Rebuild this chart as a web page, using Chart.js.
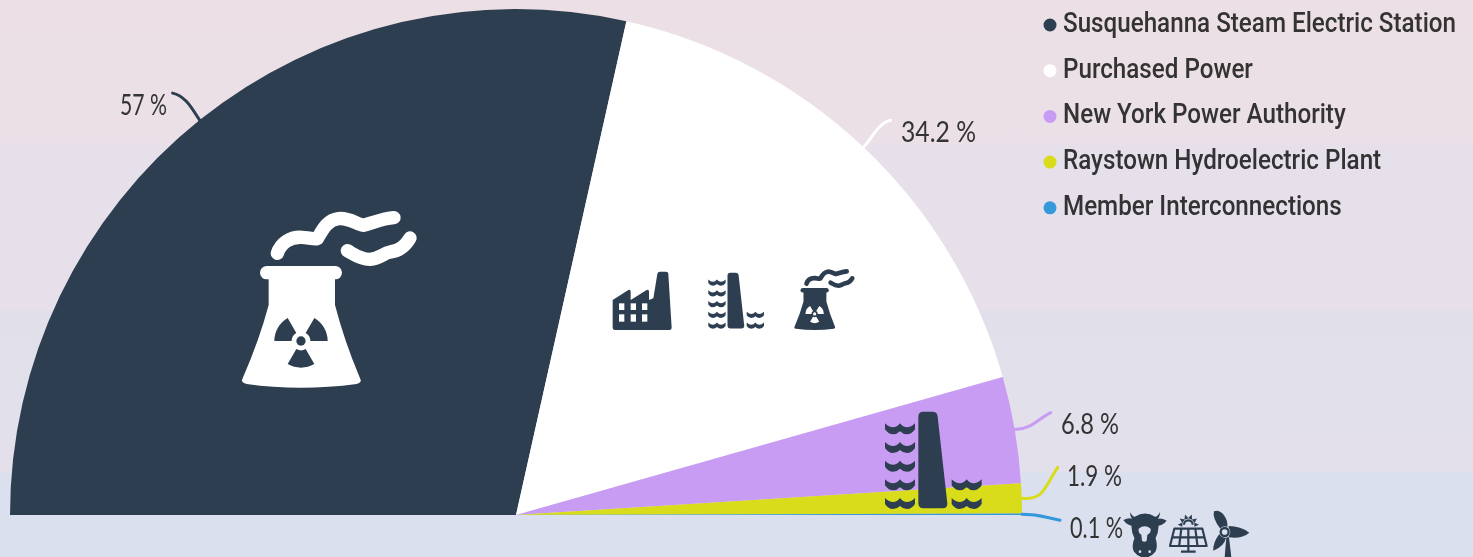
<!DOCTYPE html>
<html>
<head>
<meta charset="utf-8">
<script src="https://cdn.jsdelivr.net/npm/chart.js@4"></script>
<style>
  html, body { margin: 0; padding: 0; width: 1473px; height: 557px; overflow: hidden; }
  body { background: linear-gradient(180deg, #ece0e6 0, #ebe0e7 144px, #e6e0eb 145px, #e7e0ea 310px, #e1e0ea 311px, #e3e0ec 472px, #dbe0ee 473px, #dbe0ee 557px); }
  canvas { display: block; }
</style>
</head>
<body>
<canvas id="myChart" width="1473" height="557"></canvas>
<script>
var categories = ['Susquehanna Steam Electric Station', 'Purchased Power', 'New York Power Authority', 'Raystown Hydroelectric Plant', 'Member Interconnections'];
var shares = [57, 34.2, 6.8, 1.9, 0.1];
var colors = ['#2d3e50', '#ffffff', '#c99cf4', '#d8dc1a', '#3498db'];

var DARK = '#2d3e50';
var WHITE = '#ffffff';

// connector curve, offsets from the outer middle of each slice, then label x / baseline / width
var callouts = [
    { c: [-8, -12, -14, -24, -27, -27], tx: 120, ty: 115, tw: 47 },
    { c: [8, -8, 14, -24, 27, -27], tx: 901, ty: 142, tw: 75 },
    { c: [18, -1, 22, -10, 36, -17], tx: 1061, ty: 434, tw: 58 },
    { c: [22, 2, 22, -10, 36, -31], tx: 1067, ty: 486, tw: 55 },
    { c: [18, 0, 22, 3, 38, 6], tx: 1070, ty: 538, tw: 53 }
];

function wave(ctx, x, y) {
    ctx.beginPath();
    ctx.moveTo(x, y);
    ctx.quadraticCurveTo(x + 12, y + 12, x + 24, y + 12);
    ctx.quadraticCurveTo(x + 36, y + 12, x + 45, y);
    ctx.quadraticCurveTo(x + 54, y + 12, x + 66, y + 12);
    ctx.quadraticCurveTo(x + 78, y + 12, x + 90, y);
    ctx.lineTo(x + 90, y + 18);
    ctx.quadraticCurveTo(x + 80, y + 33, x + 66, y + 33);
    ctx.quadraticCurveTo(x + 54, y + 33, x + 45, y + 24);
    ctx.quadraticCurveTo(x + 36, y + 33, x + 24, y + 33);
    ctx.quadraticCurveTo(x + 10, y + 33, x, y + 18);
    ctx.closePath();
    ctx.fill();
}

function drawDam(ctx, ox, oy, s) {
    ctx.save();
    ctx.translate(ox, oy);
    ctx.scale(s, s);
    ctx.fillStyle = DARK;
    ctx.beginPath();
    ctx.moveTo(175, 50);
    ctx.quadraticCurveTo(175, 35, 190, 35);
    ctx.lineTo(218, 35);
    ctx.quadraticCurveTo(232, 35, 233, 50);
    ctx.lineTo(262, 310);
    ctx.quadraticCurveTo(263, 325, 248, 325);
    ctx.lineTo(190, 325);
    ctx.quadraticCurveTo(175, 325, 175, 310);
    ctx.closePath();
    ctx.fill();
    [70, 126, 182, 238, 294].forEach(function (y) { wave(ctx, 75, y); });
    [238, 294].forEach(function (y) { wave(ctx, 275, y); });
    ctx.restore();
}

function drawTower(ctx, ox, oy, s, fg, bg) {
    ctx.save();
    ctx.translate(ox, oy);
    ctx.scale(s, s);
    ctx.fillStyle = fg;
    ctx.strokeStyle = fg;
    ctx.lineCap = 'round';
    ctx.lineJoin = 'round';
    ctx.lineWidth = 40;
    ctx.beginPath();
    ctx.moveTo(172, 190);
    ctx.bezierCurveTo(182, 160, 210, 140, 245, 142);
    ctx.bezierCurveTo(265, 143, 280, 148, 292, 146);
    ctx.bezierCurveTo(305, 125, 320, 90, 355, 86);
    ctx.bezierCurveTo(385, 82, 410, 102, 430, 106);
    ctx.bezierCurveTo(460, 98, 490, 85, 522, 83);
    ctx.stroke();
    ctx.beginPath();
    ctx.moveTo(382, 182);
    ctx.bezierCurveTo(400, 192, 420, 208, 450, 208);
    ctx.bezierCurveTo(480, 205, 490, 190, 510, 186);
    ctx.bezierCurveTo(540, 183, 558, 165, 570, 144);
    ctx.stroke();
    ctx.beginPath();
    ctx.roundRect(120, 228, 246, 40, 20);
    ctx.fill();
    ctx.beginPath();
    ctx.moveTo(146, 260);
    ctx.lineTo(146, 345);
    ctx.quadraticCurveTo(118, 450, 68, 565);
    ctx.quadraticCurveTo(60, 578, 80, 582);
    ctx.quadraticCurveTo(240, 605, 410, 582);
    ctx.quadraticCurveTo(428, 578, 420, 565);
    ctx.quadraticCurveTo(372, 450, 345, 345);
    ctx.lineTo(345, 260);
    ctx.closePath();
    ctx.fill();
    // radiation sign
    ctx.fillStyle = bg;
    [[180, 240], [300, 360], [60, 120]].forEach(function (a) {
        ctx.beginPath();
        ctx.arc(243, 453, 80, a[0] * Math.PI / 180, a[1] * Math.PI / 180);
        ctx.arc(243, 453, 28, a[1] * Math.PI / 180, a[0] * Math.PI / 180, true);
        ctx.closePath();
        ctx.fill();
    });
    ctx.beginPath();
    ctx.arc(243, 453, 14, 0, Math.PI * 2);
    ctx.fill();
    ctx.restore();
}

function drawFactory(ctx, ox, oy, s) {
    ctx.save();
    ctx.translate(ox, oy);
    ctx.scale(s, s);
    ctx.fillStyle = DARK;
    ctx.beginPath();
    ctx.moveTo(38, 120);
    ctx.lineTo(85, 90);
    ctx.quadraticCurveTo(92, 87, 92, 95);
    ctx.lineTo(92, 120);
    ctx.lineTo(140, 90);
    ctx.quadraticCurveTo(147, 87, 147, 95);
    ctx.lineTo(147, 120);
    ctx.lineTo(160, 115);
    ctx.lineTo(172, 42);
    ctx.quadraticCurveTo(173, 35, 180, 35);
    ctx.lineTo(197, 35);
    ctx.quadraticCurveTo(205, 35, 205, 42);
    ctx.lineTo(215, 203);
    ctx.quadraticCurveTo(215, 210, 208, 210);
    ctx.lineTo(45, 210);
    ctx.quadraticCurveTo(38, 210, 38, 203);
    ctx.closePath();
    ctx.fill();
    ctx.fillStyle = WHITE;
    [57, 92, 126].forEach(function (x) {
        ctx.fillRect(x, 130, 16, 20);
        ctx.fillRect(x, 163, 16, 22);
    });
    ctx.restore();
}

function drawCow(ctx, ox, oy, s) {
    ctx.save();
    ctx.translate(ox, oy);
    ctx.scale(s, s);
    ctx.fillStyle = DARK;
    ctx.strokeStyle = DARK;
    ctx.lineWidth = 5;
    ctx.lineJoin = 'round';
    ctx.beginPath(); // head
    ctx.moveTo(46, 28);
    ctx.quadraticCurveTo(75, 10, 104, 28);
    ctx.quadraticCurveTo(122, 55, 104, 90);
    ctx.quadraticCurveTo(112, 115, 104, 130);
    ctx.quadraticCurveTo(92, 146, 74, 146);
    ctx.quadraticCurveTo(56, 146, 44, 130);
    ctx.quadraticCurveTo(36, 115, 46, 90);
    ctx.quadraticCurveTo(28, 55, 46, 28);
    ctx.closePath();
    ctx.fill();
    ctx.stroke();
    ctx.beginPath(); // horns and ears
    ctx.moveTo(30, 12); ctx.quadraticCurveTo(36, 28, 56, 30); ctx.lineTo(44, 40); ctx.quadraticCurveTo(30, 30, 30, 12);
    ctx.moveTo(120, 12); ctx.quadraticCurveTo(114, 28, 94, 30); ctx.lineTo(106, 40); ctx.quadraticCurveTo(120, 30, 120, 12);
    ctx.moveTo(10, 36); ctx.quadraticCurveTo(30, 26, 46, 36); ctx.lineTo(44, 54); ctx.quadraticCurveTo(22, 54, 10, 36);
    ctx.moveTo(140, 38); ctx.quadraticCurveTo(120, 26, 104, 36); ctx.lineTo(106, 54); ctx.quadraticCurveTo(128, 54, 140, 38);
    ctx.fill();
    ctx.fillStyle = '#dbe0ee'; // face patch and nostrils
    ctx.beginPath();
    ctx.moveTo(56, 62);
    ctx.quadraticCurveTo(74, 48, 92, 62);
    ctx.quadraticCurveTo(94, 74, 82, 80);
    ctx.lineTo(80, 98);
    ctx.quadraticCurveTo(73, 104, 66, 98);
    ctx.lineTo(64, 80);
    ctx.quadraticCurveTo(54, 74, 56, 62);
    ctx.closePath();
    ctx.fill();
    ctx.beginPath(); ctx.arc(60, 131, 4, 0, Math.PI * 2); ctx.arc(89, 131, 4, 0, Math.PI * 2); ctx.fill();
    ctx.restore();
}

function drawSolar(ctx, ox, oy, s) {
    ctx.save();
    ctx.translate(ox, oy);
    ctx.scale(s, s);
    ctx.strokeStyle = DARK;
    ctx.fillStyle = DARK;
    ctx.lineWidth = 6.5;
    ctx.lineJoin = 'round';
    ctx.beginPath();
    ctx.moveTo(28, 62); ctx.lineTo(112, 62); ctx.lineTo(125, 114); ctx.lineTo(15, 114); ctx.closePath();
    // cells
    ctx.moveTo(22, 88); ctx.lineTo(118, 88);
    [0.25, 0.5, 0.75].forEach(function (f) {
        ctx.moveTo(28 + 84 * f, 62);
        ctx.lineTo(15 + 110 * f, 114);
    });
    ctx.moveTo(70, 114); ctx.lineTo(70, 128);
    ctx.moveTo(48, 131); ctx.lineTo(92, 131);
    ctx.stroke();
    // half sun
    ctx.beginPath();
    ctx.arc(70, 50, 13, Math.PI, 0);
    ctx.stroke();
    for (var a = 180; a <= 360; a += 36) {
        var r = a * Math.PI / 180, p = Math.PI / 9;
        ctx.beginPath();
        ctx.moveTo(70 + Math.cos(r - p) * 19, 50 + Math.sin(r - p) * 19);
        ctx.lineTo(70 + Math.cos(r) * 32, 50 + Math.sin(r) * 32);
        ctx.lineTo(70 + Math.cos(r + p) * 19, 50 + Math.sin(r + p) * 19);
        ctx.closePath();
        ctx.fill();
    }
    ctx.restore();
}

function drawTurbine(ctx, ox, oy, s) {
    ctx.save();
    ctx.translate(ox, oy);
    ctx.scale(s, s);
    ctx.fillStyle = DARK;
    ctx.beginPath(); // up blade
    ctx.moveTo(38, 64);
    ctx.quadraticCurveTo(12, 30, 18, 10);
    ctx.quadraticCurveTo(34, 4, 48, 22);
    ctx.quadraticCurveTo(60, 38, 58, 58);
    ctx.closePath();
    ctx.fill();
    ctx.beginPath(); // right blade
    ctx.moveTo(62, 54);
    ctx.quadraticCurveTo(98, 54, 124, 74);
    ctx.quadraticCurveTo(100, 94, 62, 88);
    ctx.closePath();
    ctx.fill();
    ctx.beginPath(); // lower blade
    ctx.moveTo(34, 78);
    ctx.quadraticCurveTo(14, 104, 16, 128);
    ctx.quadraticCurveTo(48, 116, 54, 90);
    ctx.closePath();
    ctx.fill();
    ctx.beginPath(); // mast
    ctx.moveTo(55, 88); ctx.lineTo(63, 88); ctx.lineTo(70, 147); ctx.lineTo(50, 147);
    ctx.closePath();
    ctx.fill();
    ctx.beginPath();
    ctx.arc(50, 72, 17, 0, Math.PI * 2);
    ctx.fillStyle = '#dbe0ee';
    ctx.fill();
    ctx.beginPath();
    ctx.arc(50, 72, 12, 0, Math.PI * 2);
    ctx.lineWidth = 7;
    ctx.strokeStyle = DARK;
    ctx.stroke();
    ctx.restore();
}

var pieExtras = {
    id: 'pieExtras',
    afterDatasetsDraw: function (chart) {
        var ctx = chart.ctx;
        var arcs = chart.getDatasetMeta(0).data;

        // icons sit on top of the slices
        drawTower(ctx, 220, 190, 1 / 3, WHITE, DARK);
        drawFactory(ctx, 600, 260, 1 / 3);
        drawDam(ctx, 693.9, 266, 0.192);
        drawTower(ctx, 786.7, 261.8, 0.115, DARK, WHITE);
        drawDam(ctx, 860, 400, 1 / 3);
        drawCow(ctx, 1120, 508, 1 / 3);
        drawSolar(ctx, 1165, 508, 1 / 3);
        drawTurbine(ctx, 1208, 508, 1 / 3);

        // connectors and share labels
        arcs.forEach(function (arc, i) {
            var p = arc.getProps(['x', 'y', 'startAngle', 'endAngle', 'outerRadius'], true);
            var mid = (p.startAngle + p.endAngle) / 2;
            var ax = p.x + Math.cos(mid) * p.outerRadius;
            var ay = p.y + Math.sin(mid) * p.outerRadius;
            var c = callouts[i].c;
            ctx.beginPath();
            ctx.moveTo(ax, ay);
            ctx.bezierCurveTo(ax + c[0], ay + c[1], ax + c[2], ay + c[3], ax + c[4], ay + c[5]);
            ctx.lineWidth = 3;
            ctx.lineCap = 'round';
            ctx.strokeStyle = colors[i];
            ctx.stroke();
            var label = shares[i] + ' %';
            ctx.font = '28px Lato';
            ctx.textAlign = 'left';
            ctx.textBaseline = 'alphabetic';
            var fit = callouts[i].tw / ctx.measureText(label).width;
            ctx.save();
            ctx.translate(callouts[i].tx, callouts[i].ty);
            ctx.scale(fit, 1);
            ctx.fillStyle = '#333333';
            ctx.fillText(label, 0, 0);
            ctx.restore();
        });

        // legend, squeezed to the condensed look of the original
        ctx.font = '500 28px Roboto';
        var squeeze = 393 / ctx.measureText(categories[0]).width;
        categories.forEach(function (name, i) {
            var y = 25 + i * 45.7;
            ctx.beginPath();
            ctx.arc(1050, y, 6.5, 0, Math.PI * 2);
            ctx.fillStyle = colors[i];
            ctx.fill();
            ctx.save();
            ctx.translate(1063, y + 7);
            ctx.scale(squeeze, 1);
            ctx.fillStyle = '#333333';
            ctx.fillText(name, 0, 0);
            ctx.restore();
        });
    }
};

var myChart = new Chart(document.getElementById('myChart'), {
    type: 'doughnut',
    data: {
        labels: categories,
        datasets: [{
            data: shares,
            backgroundColor: colors,
            borderWidth: 0
        }]
    },
    plugins: [pieExtras],
    options: {
        responsive: false,
        animation: false,
        cutout: 0,
        rotation: -90,
        circumference: 180,
        layout: { padding: { left: 10, right: 451, top: 9, bottom: 42 } },
        plugins: {
            legend: { display: false },
            tooltip: { enabled: false }
        }
    }
});
</script>
</body>
</html>
